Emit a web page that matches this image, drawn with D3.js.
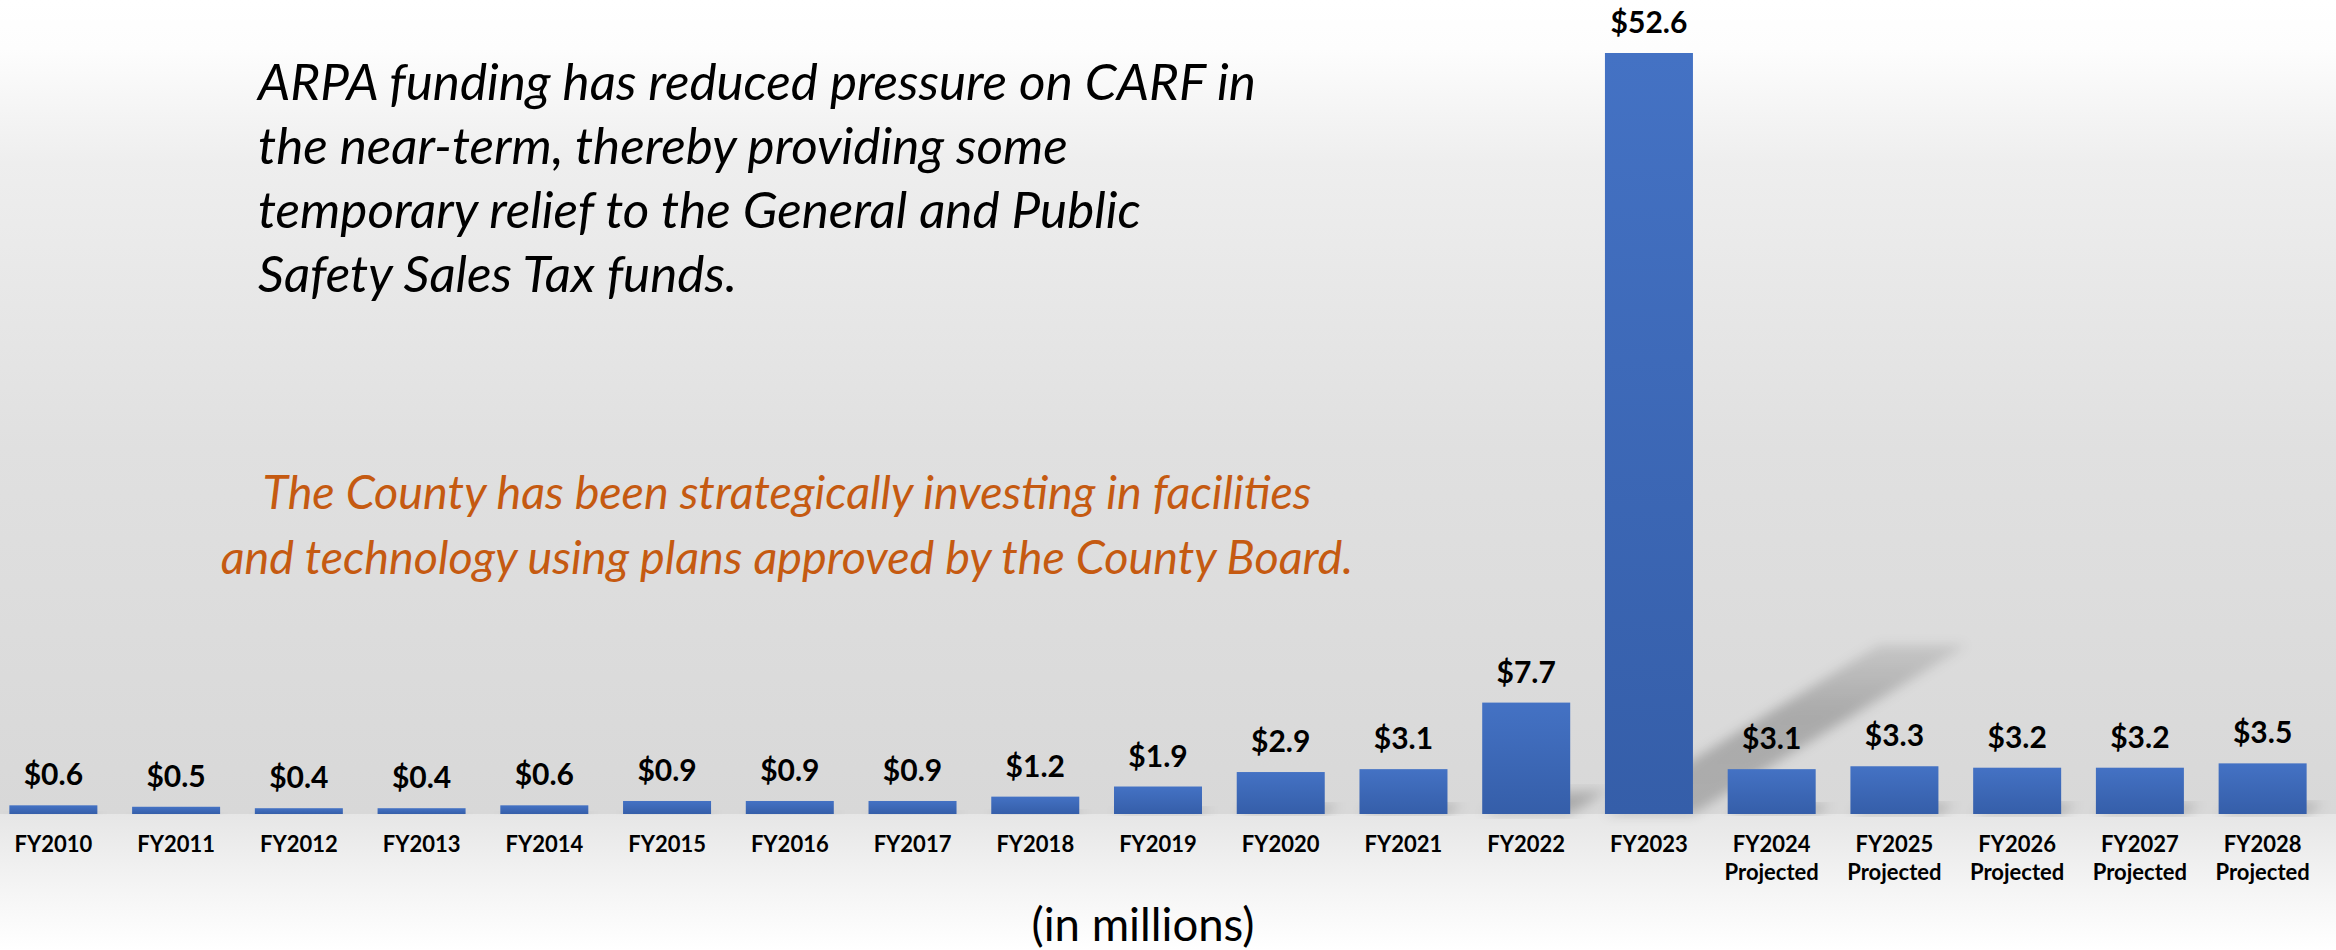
<!DOCTYPE html>
<html>
<head>
<meta charset="utf-8">
<script src="https://cdn.jsdelivr.net/npm/d3@7"></script>
<style>
  html, body { margin: 0; padding: 0; background: #fff; overflow: hidden; }
  svg { display: block; }
</style>
</head>
<body>
<svg id="chart" width="2336" height="950"></svg>
<script>
// chart data
var categories = ["FY2010","FY2011","FY2012","FY2013","FY2014","FY2015","FY2016","FY2017","FY2018",
  "FY2019","FY2020","FY2021","FY2022","FY2023","FY2024","FY2025","FY2026","FY2027","FY2028"];
var subLabels = ["","","","","","","","","","","","","","","Projected","Projected","Projected","Projected","Projected"];
var values = [0.6,0.5,0.4,0.4,0.6,0.9,0.9,0.9,1.2,1.9,2.9,3.1,7.7,52.6,3.1,3.3,3.2,3.2,3.5];

var noteLines = [
  "ARPA funding has reduced pressure on CARF in",
  "the near-term, thereby providing some",
  "temporary relief to the General and Public",
  "Safety Sales Tax funds."
];
var strategyLines = [
  "The County has been strategically investing in facilities",
  "and technology using plans approved by the County Board."
];
var unitLabel = "(in millions)";

////////////////////////////////////////////
// layout
////////////////////////////////////////////
var svg = d3.select("svg#chart");
var width = +svg.attr("width"), height = +svg.attr("height");
var base = 814, topY = 53;
var font = "Lato, 'Open Sans', sans-serif";

var x = d3.scaleBand()
    .domain(categories)
    .range([-8, 2324])
    .paddingInner(0.283)
    .paddingOuter(0.1415);
var y = d3.scaleLinear()
    .domain([0, d3.max(values)])
    .range([base, topY]);

var defs = svg.append("defs");

var bg = defs.append("linearGradient").attr("id","bg").attr("x1",0).attr("y1",0).attr("x2",0).attr("y2",1);
[[0,"#ffffff"],[0.06,"#fdfdfd"],[0.2,"#eeeeee"],[0.55,"#e0e0e0"],[1,"#d8d8d8"]]
  .forEach(s => bg.append("stop").attr("offset",s[0]).attr("stop-color",s[1]));

var floor = defs.append("linearGradient").attr("id","floor").attr("x1",0).attr("y1",0).attr("x2",0).attr("y2",1);
[[0,"#e6e6e6"],[0.6,"#f6f6f6"],[1,"#ffffff"]]
  .forEach(s => floor.append("stop").attr("offset",s[0]).attr("stop-color",s[1]));

var barGrad = defs.append("linearGradient").attr("id","barGrad").attr("x1",0).attr("y1",0).attr("x2",0).attr("y2",1);
[[0,"#4472c4"],[1,"#355ea9"]]
  .forEach(s => barGrad.append("stop").attr("offset",s[0]).attr("stop-color",s[1]));

var shGrad = defs.append("linearGradient").attr("id","shGrad").attr("x1",0).attr("y1",1).attr("x2",0).attr("y2",0);
[[0,0.2],[0.6,0.22],[1,0.1]]
  .forEach(s => shGrad.append("stop").attr("offset",s[0]).attr("stop-color","#000").attr("stop-opacity",s[1]));

defs.append("filter").attr("id","blur").attr("x","-20%").attr("y","-20%").attr("width","140%").attr("height","140%")
  .append("feGaussianBlur").attr("stdDeviation",6);

// background
svg.append("rect").attr("width",width).attr("height",base).attr("fill","url(#bg)");
svg.append("rect").attr("y",base).attr("width",width).attr("height",height-base).attr("fill","url(#floor)");

// perspective shadows behind bars
var g = svg.append("g");
g.append("g").attr("class","shadows")
  .selectAll("path")
  .data(values)
  .enter().append("path")
  .attr("d",(d,i) => {
    let x0 = x(categories[i]), x1 = x0 + x.bandwidth();
    let h = base - y(d), dx = h*0.36, dy = h*0.222;
    return `M${x0},${base}L${x1},${base}L${x1+dx},${base-dy}L${x0+dx},${base-dy}Z`;
  })
  .attr("fill","url(#shGrad)")
  .attr("filter","url(#blur)");

// bars
g.append("g").attr("class","bars")
  .selectAll("rect")
  .data(values)
  .enter().append("rect")
  .attr("x",(d,i) => x(categories[i]))
  .attr("y",d => y(d))
  .attr("width",x.bandwidth())
  .attr("height",d => base - y(d))
  .attr("fill","url(#barGrad)");

// value labels
var fmt = d3.format(".1f");
g.append("g").attr("class","labels")
  .selectAll("text")
  .data(values)
  .enter().append("text")
  .attr("x",(d,i) => x(categories[i]) + x.bandwidth()/2)
  .attr("y",d => y(d) - 20)
  .attr("text-anchor","middle")
  .attr("font-family",font)
  .attr("font-weight","bold")
  .attr("font-size","30px")
  .attr("fill","#000")
  .text(d => "$" + fmt(d));

// xaxis
var xa = g.append("g")
  .attr("class","xaxis")
  .attr("transform",`translate(0,${base})`)
  .call(d3.axisBottom(x).tickSize(0).tickPadding(0));
xa.select(".domain").remove();
xa.selectAll(".tick text")
  .attr("y",38)
  .attr("dy",0)
  .attr("font-family",font)
  .attr("font-weight","bold")
  .attr("font-size","22px")
  .attr("fill","#000")
  .each(function(d,i){
    let sub = subLabels[i];
    if(!sub) return;
    d3.select(this).append("tspan").attr("x",0).attr("dy",28).text(sub);
  });

// lines of text, font size set so the first line gets the given width
function textBlock(lines, o){
  let sel = svg.append("g").selectAll("text")
    .data(lines)
    .enter().append("text")
    .attr("x",o.x)
    .attr("y",(d,i) => o.y + i*o.lead)
    .attr("text-anchor",o.anchor || "start")
    .attr("font-family",font)
    .attr("font-style",o.italic ? "italic" : "normal")
    .attr("font-size","40px")
    .attr("fill",o.color)
    .text(d => d);
  let w = sel.node().getComputedTextLength();
  sel.attr("font-size",(40*o.width/w).toFixed(2) + "px");
  return sel;
}

textBlock(noteLines, {x:258, y:100, lead:64, width:998, italic:true, color:"#000"});
textBlock(strategyLines, {x:787, y:509, lead:65, width:1049, italic:true, color:"#c55a11", anchor:"middle"});
textBlock([unitLabel], {x:1143, y:941, lead:0, width:223, color:"#000", anchor:"middle"});
</script>
</body>
</html>
